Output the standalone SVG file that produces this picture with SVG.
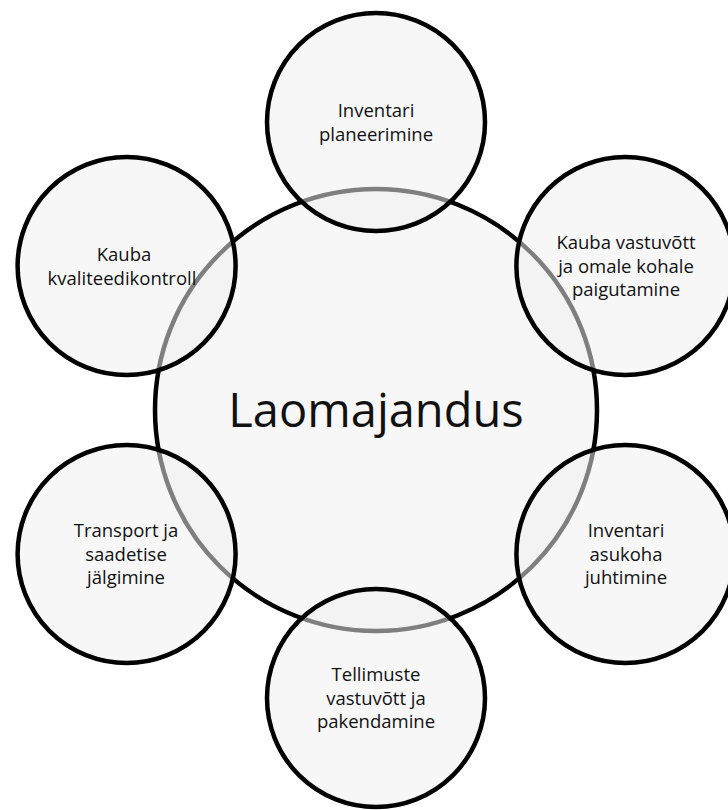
<svg xmlns="http://www.w3.org/2000/svg" width="728" height="810" viewBox="0 0 728 810">
  <style>
    .hub { fill: #f7f7f7; stroke: #000000; stroke-width: 4.5; }
    .sat { fill: rgb(240,240,240); fill-opacity: 0.53; stroke: #000000; stroke-width: 4.5; }
    .lbl { font-family: "Open Sans", "Noto Sans", "Liberation Sans", sans-serif; font-size: 18.5px; fill: #111111; text-anchor: middle; }
    .hubtxt { font-family: "Open Sans", "Noto Sans", "Liberation Sans", sans-serif; font-size: 47px; fill: #111111; text-anchor: middle; }
  </style>
  <rect x="0" y="0" width="728" height="810" fill="#ffffff"/>
  <g id="connectors"></g>
  <g id="hub">
    <circle class="hub" cx="376" cy="410" r="221"/>
    <text class="hubtxt" x="376" y="427">Laomajandus</text>
  </g>
  <g id="node-planeerimine">
    <circle class="sat" cx="376" cy="122" r="109"/>
    <text class="lbl" x="376" y="117">Inventari</text>
    <text class="lbl" x="376" y="140.5">planeerimine</text>
  </g>
  <g id="node-vastuvott">
    <circle class="sat" cx="625.4" cy="266" r="109"/>
    <text class="lbl" x="626" y="249">Kauba vastuvõtt</text>
    <text class="lbl" x="626" y="272.5">ja omale kohale</text>
    <text class="lbl" x="626" y="296">paigutamine</text>
  </g>
  <g id="node-asukoht">
    <circle class="sat" cx="625.4" cy="554" r="109"/>
    <text class="lbl" x="626" y="537">Inventari</text>
    <text class="lbl" x="626" y="560.5">asukoha</text>
    <text class="lbl" x="626" y="584">juhtimine</text>
  </g>
  <g id="node-tellimused">
    <circle class="sat" cx="376" cy="698" r="109"/>
    <text class="lbl" x="376" y="681">Tellimuste</text>
    <text class="lbl" x="376" y="704.5">vastuvõtt ja</text>
    <text class="lbl" x="376" y="728">pakendamine</text>
  </g>
  <g id="node-transport">
    <circle class="sat" cx="126.6" cy="554" r="109"/>
    <text class="lbl" x="126" y="537">Transport ja</text>
    <text class="lbl" x="126" y="560.5">saadetise</text>
    <text class="lbl" x="126" y="584">jälgimine</text>
  </g>
  <g id="node-kvaliteet">
    <circle class="sat" cx="126.6" cy="266" r="109"/>
    <text class="lbl" x="124" y="261">Kauba</text>
    <text class="lbl" x="122" y="284.5">kvaliteedikontroll</text>
  </g>
</svg>
